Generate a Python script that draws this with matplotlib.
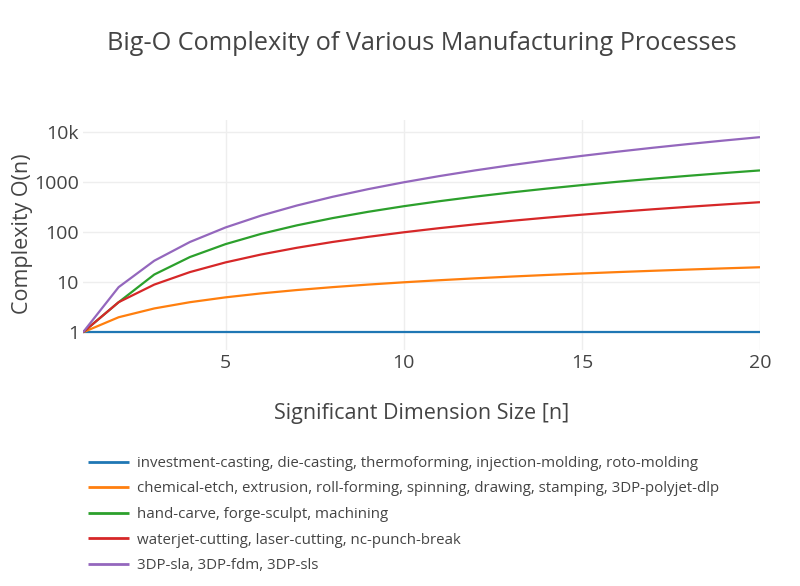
import matplotlib
matplotlib.use("Agg")
import matplotlib.pyplot as plt
from matplotlib.ticker import FixedLocator, FixedFormatter, NullLocator

plt.rcParams['font.family'] = ['Open Sans', 'DejaVu Sans']

n = list(range(1, 21))
series_names = [
    "investment-casting, die-casting, thermoforming, injection-molding, roto-molding",
    "chemical-etch, extrusion, roll-forming, spinning, drawing, stamping, 3DP-polyjet-dlp",
    "hand-carve, forge-sculpt, machining",
    "waterjet-cutting, laser-cutting, nc-punch-break",
    "3DP-sla, 3DP-fdm, 3DP-sls",
]
constant = [1] * 20
linear = [1, 2, 3, 4, 5, 6, 7, 8, 9, 10, 11, 12, 13, 14, 15, 16, 17, 18, 19, 20]
n2logn = [1, 4, 14.3, 32, 58.0, 93.1, 137.6, 192, 256.8, 332.2, 418.6, 516.2,
          625.4, 746.3, 879.0, 1024, 1181.3, 1351.0, 1533.5, 1728.8]
quadratic = [1, 4, 9, 16, 25, 36, 49, 64, 81, 100, 121, 144, 169, 196, 225, 256,
             289, 324, 361, 400]
cubic = [1, 8, 27, 64, 125, 216, 343, 512, 729, 1000, 1331, 1728, 2197, 2744,
         3375, 4096, 4913, 5832, 6859, 8000]
series = [constant, linear, n2logn, quadratic, cubic]
colors = ['#1f77b4', '#ff7f0e', '#2ca02c', '#d62728', '#9467bd']

y_ticks = [1, 10, 100, 1000, 10000]
y_tick_labels = ["1", "10", "100", "1000", "10k"]
x_ticks = [5, 10, 15, 20]

fig = plt.figure(figsize=(8, 5.86), dpi=100)
ax = fig.add_axes([83/800, 1-350/586, (760-83)/800, (350-120)/586])

for vals, c, name in zip(series, colors, series_names):
    ax.plot(n, vals, color=c, lw=1.6, label=name, solid_capstyle='butt')

ax.set_yscale('log')
ax.set_xlim(1, 20)
ax.set_ylim(10**-0.354, 10**4.246)
ax.yaxis.set_major_locator(FixedLocator(y_ticks))
ax.yaxis.set_major_formatter(FixedFormatter(y_tick_labels))
ax.yaxis.set_minor_locator(NullLocator())
ax.xaxis.set_major_locator(FixedLocator(x_ticks))
ax.grid(True, color='#eeeeee', lw=1)
ax.set_axisbelow(True)
for s in ax.spines.values():
    s.set_visible(False)
ax.tick_params(length=0, labelsize=14, colors='#444444')
ax.tick_params(axis='y', pad=3)
ax.tick_params(axis='x', pad=3)

ax.set_xlabel("Significant Dimension Size [n]", fontsize=15.5, color='#444444', labelpad=22)
ax.set_ylabel("Complexity O(n)", fontsize=15.5, color='#444444')
ax.yaxis.set_label_coords((33 - 83) / 677, (350 - 234) / 230)
fig.text(422/800, 1-43/586, "Big-O Complexity of Various Manufacturing Processes",
         ha='center', va='center', fontsize=18.2, color='#444444')

leg = fig.legend(loc='upper left', bbox_to_anchor=(82/800, 1-450/586), frameon=False,
                 fontsize=10.8, handlelength=2.7, handletextpad=0.55, labelspacing=0.7,
                 borderaxespad=0)
for t in leg.get_texts():
    t.set_color('#444444')
for l in leg.get_lines():
    l.set_linewidth(2)

fig.savefig("out.png", dpi=100, facecolor='white')
